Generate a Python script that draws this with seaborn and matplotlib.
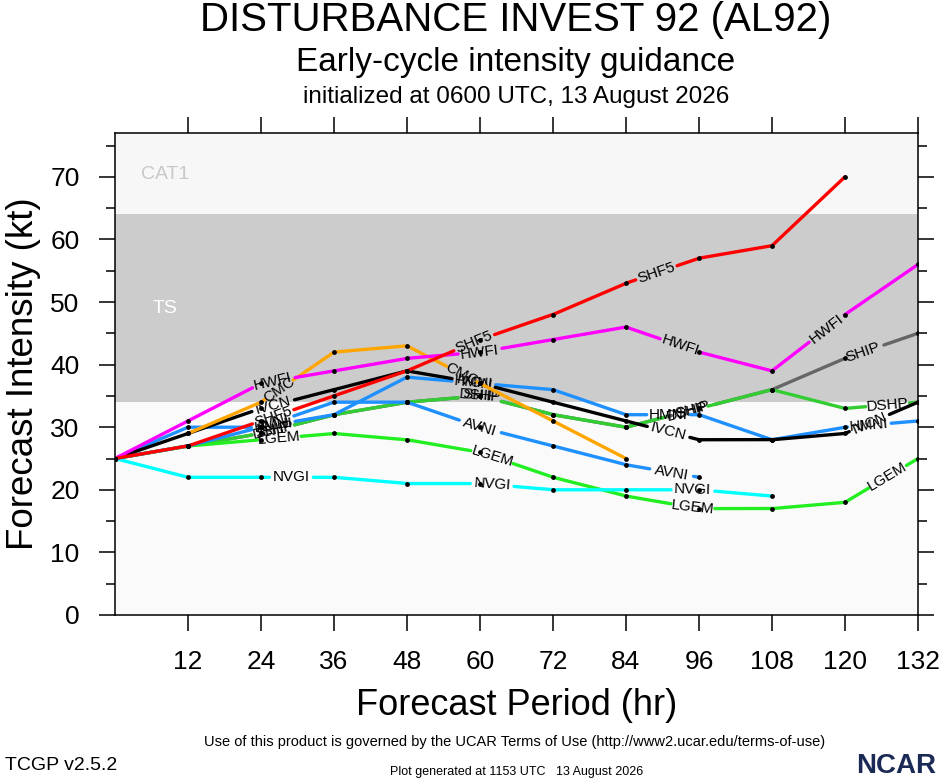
import numpy as np
import pandas as pd
import matplotlib
matplotlib.use('Agg')
import matplotlib.pyplot as plt
import seaborn as sns

sns.set_theme(style='ticks')
plt.rcParams['font.family'] = ['Liberation Sans', 'DejaVu Sans']
plt.rcParams['text.color'] = 'black'
plt.rcParams['axes.labelcolor'] = 'black'
plt.rcParams['xtick.color'] = 'black'
plt.rcParams['ytick.color'] = 'black'

nan = np.nan
hours = [0, 12, 24, 36, 48, 60, 72, 84, 96, 108, 120, 132]

# intensity (kt) per model
shf5 = [25, 27, 31, 35, 39, 44, 48, 53, 57, 59, 70, nan]
hwfi = [25, 31, 37, 39, 41, 42, 44, 46, 42, 39, 48, 56]
cmc = [nan, 29, 34, 42, 43, 37, 31, 25, nan, nan, nan, nan]
ivcn = [25, 29, 33, 36, 39, 37, 34, 31, 28, 28, 29, 34]
ship = [25, 27, 29, 32, 34, 35, 32, 30, 33, 36, 41, 45]
dshp = [25, 27, 29, 32, 34, 35, 32, 30, 33, 36, 33, 34]
hmni = [25, 30, 30, 32, 38, 37, 36, 32, 32, 28, 30, 31]
avni = [25, 27, 30, 34, 34, 30, 27, 24, 22, nan, nan, nan]
lgem = [25, 27, 28, 29, 28, 26, 22, 19, 17, 17, 18, 25]
nvgi = [25, 22, 22, 22, 21, 21, 20, 20, 20, 19, nan, nan]

# drawing order (first = bottom)
models = ['SHIP', 'DSHP', 'LGEM', 'NVGI', 'AVNI', 'HMNI', 'IVCN', 'CMC', 'HWFI', 'SHF5']
values = {'SHF5': shf5, 'HWFI': hwfi, 'CMC': cmc, 'IVCN': ivcn, 'SHIP': ship,
          'DSHP': dshp, 'HMNI': hmni, 'AVNI': avni, 'LGEM': lgem, 'NVGI': nvgi}
colors = {'SHF5': '#ff0000', 'HWFI': '#ff00ff', 'CMC': '#ffa500', 'IVCN': '#000000',
          'SHIP': '#666666', 'DSHP': '#33cc33', 'HMNI': '#1e90ff', 'AVNI': '#1e90ff',
          'LGEM': '#22ee22', 'NVGI': '#00ffff'}
# where along each line the in-line labels sit (forecast hour)
label_hrs = {'SHF5': [26, 59, 89], 'HWFI': [26, 60, 93, 117], 'CMC': [27, 57],
             'IVCN': [26, 59, 91, 124], 'SHIP': [26, 60, 95, 123],
             'AVNI': [26, 60, 91.5], 'HMNI': [26, 59, 91, 124],
             'DSHP': [26, 60, 94, 127], 'LGEM': [27, 62, 95, 127],
             'NVGI': [29, 62, 95]}

fig = plt.figure(figsize=(9.4, 7.8), dpi=100)
ax = fig.add_axes([115 / 940, 1 - 615 / 780, 803 / 940, 482 / 780])
ax.set_xlim(0, 132)
ax.set_ylim(0, 77)

# intensity bands
ax.set_facecolor('#fafafa')
ax.axhspan(34, 64, color='#cccccc', lw=0, zorder=0)
ax.axhspan(64, 77, color='#f7f7f7', lw=0, zorder=0)
ax.text(8.2, 70.3, 'CAT1', color='#c8c8c8', fontsize=14, ha='center', va='center')
ax.text(8.2, 49, 'TS', color='white', fontsize=14, ha='center', va='center')


def draw_model(name, z):
    x = np.array(hours, float)
    y = np.array(values[name], float)
    ok = ~np.isnan(y)
    xs, ys = x[ok], y[ok]
    fx = np.linspace(xs[0], xs[-1], int((xs[-1] - xs[0]) * 10) + 1)
    fy = np.interp(fx, xs, ys)
    pts = ax.transData.transform(np.column_stack([fx, fy]))
    s = np.concatenate([[0], np.cumsum(np.hypot(*np.diff(pts, axis=0).T))])
    half = 5.2 * len(name) + 1
    keep = np.ones(len(fx), bool)
    for h in label_hrs[name]:
        s0 = np.interp(h, fx, s)
        keep &= np.abs(s - s0) > half
        px = np.interp([s0 - half, s0, s0 + half], s, pts[:, 0])
        py = np.interp([s0 - half, s0, s0 + half], s, pts[:, 1])
        ang = np.degrees(np.arctan2(py[2] - py[0], px[2] - px[0]))
        cx, cy = ax.transData.inverted().transform((px[1], py[1]))
        ax.text(cx, cy, name, fontsize=11, rotation=ang, rotation_mode='anchor',
                ha='center', va='center', color='black', zorder=z + 0.5)
    seg = np.cumsum(~keep)
    df = pd.DataFrame({'hr': fx[keep], 'kt': fy[keep], 'seg': seg[keep]})
    sns.lineplot(data=df, x='hr', y='kt', units='seg', estimator=None, sort=False,
                 color=colors[name], lw=2.4, ax=ax, legend=False, zorder=z)
    sns.scatterplot(x=xs, y=ys, color='black', s=12, linewidth=0, ax=ax,
                    zorder=20, legend=False)


for i, m in enumerate(models):
    draw_model(m, 3 + i)

ax.set_xlim(0, 132)
ax.set_ylim(0, 77)
ax.set_xticks(hours[1:])
ax.set_xticklabels([str(h) for h in hours[1:]])
ax.set_yticks(range(0, 71, 10))
ax.set_yticks(range(5, 77, 10), minor=True)
ax.xaxis.set_minor_locator(matplotlib.ticker.NullLocator())
ax.tick_params(which='major', direction='out', length=11.5, width=1.1,
               top=True, right=True, labelsize=19, pad=14, color='black')
ax.tick_params(which='minor', direction='out', length=6.5, width=1.1,
               left=True, right=True, color='black')
for sp in ax.spines.values():
    sp.set_visible(True)
    sp.set_linewidth(1.1)
    sp.set_color('black')
    sp.set_zorder(30)

ax.set_xlabel('Forecast Period (hr)', fontsize=26)
ax.set_ylabel('Forecast Intensity (kt)', fontsize=26.5)
ax.xaxis.set_label_coords(0.5, (615 - 688) / 482)
ax.yaxis.set_label_coords((41 - 115) / 803, 0.5)

cx = 516 / 940
fig.text(cx, 1 - 20 / 780, 'DISTURBANCE INVEST 92 (AL92)', fontsize=29,
         ha='center', va='center')
fig.text(cx, 1 - 62 / 780, 'Early-cycle intensity guidance', fontsize=24,
         ha='center', va='center')
fig.text(cx, 1 - 97 / 780, 'initialized at 0600 UTC, 13 August 2026', fontsize=17.5,
         ha='center', va='center')

fig.text(515 / 940, 1 - 742 / 780,
         'Use of this product is governed by the UCAR Terms of Use (http://www2.ucar.edu/terms-of-use)',
         fontsize=10.5, ha='center', va='center')
fig.text(5 / 940, 1 - 765 / 780, 'TCGP v2.5.2', fontsize=14, ha='left', va='center')
fig.text(517 / 940, 1 - 772 / 780, 'Plot generated at 1153 UTC   13 August 2026',
         fontsize=9, ha='center', va='center')
fig.text(936 / 940, 1 - 766 / 780, 'NCAR', fontsize=20, fontweight='bold',
         color='#1b2a55', ha='right', va='center')

fig.savefig('out.png', dpi=100, facecolor='white')
